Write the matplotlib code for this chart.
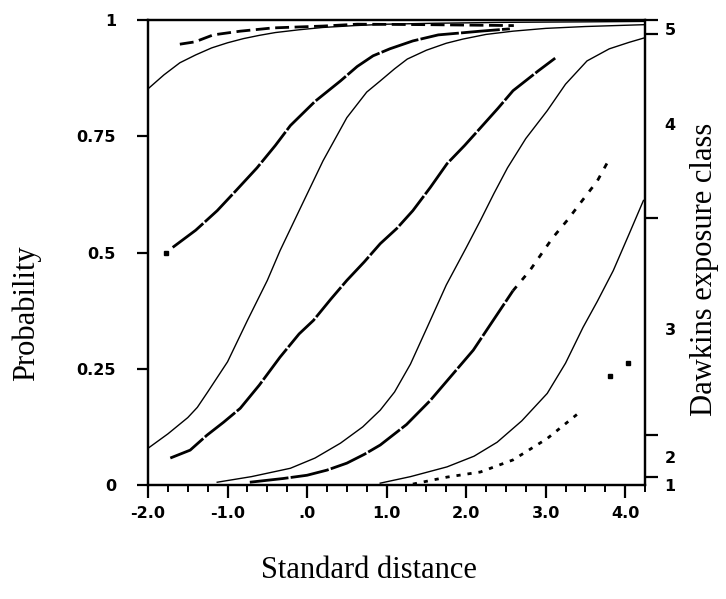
import matplotlib
matplotlib.use("Agg")
import matplotlib.pyplot as plt

# ─────────────────────────────────────────────────
# values (x = standard distance, y = probability)
# ─────────────────────────────────────────────────
# solid (fitted) curves
s1_x = [-2.0, -1.8, -1.6, -1.4, -1.2, -1.0, -0.8, -0.6, -0.4, -0.1, 0.2, 0.6,
        1.0, 1.6, 2.5, 3.5, 4.25]
s1_y = [0.852, 0.882, 0.908, 0.925, 0.940, 0.951, 0.960, 0.967, 0.973, 0.979,
        0.984, 0.988, 0.991, 0.993, 0.995, 0.996, 0.997]

s2_x = [-2.0, -1.75, -1.5, -1.38, -1.25, -1.0, -0.75, -0.5, -0.34, -0.1, 0.2,
        0.5, 0.75, 0.92, 1.1, 1.26, 1.5, 1.75, 1.96, 2.25, 2.59, 3.0, 3.5, 4.25]
s2_y = [0.079, 0.110, 0.145, 0.167, 0.200, 0.265, 0.354, 0.440, 0.504, 0.590,
        0.697, 0.790, 0.845, 0.869, 0.895, 0.916, 0.935, 0.950, 0.959, 0.969,
        0.976, 0.982, 0.986, 0.990]

s3_x = [-1.13, -0.7, -0.21, 0.1, 0.42, 0.7, 0.92, 1.1, 1.3, 1.51, 1.75, 2.0,
        2.18, 2.35, 2.52, 2.75, 3.02, 3.25, 3.52, 3.8, 4.05, 4.25]
s3_y = [0.006, 0.018, 0.036, 0.058, 0.090, 0.125, 0.161, 0.200, 0.260, 0.339,
        0.430, 0.510, 0.569, 0.627, 0.682, 0.745, 0.805, 0.862, 0.912, 0.938,
        0.952, 0.962]

s4_x = [0.92, 1.3, 1.76, 2.1, 2.39, 2.7, 3.02, 3.25, 3.47, 3.65, 3.85, 4.05, 4.23]
s4_y = [0.004, 0.018, 0.039, 0.062, 0.092, 0.138, 0.197, 0.262, 0.339, 0.395,
        0.461, 0.540, 0.612]

# dotted (observed) series
d1_x = [-1.6, -1.41, -1.18, -0.84, -0.43, 0.2, 0.63, 1.5, 2.6]
d1_y = [0.948, 0.953, 0.968, 0.976, 0.983, 0.987, 0.991, 0.990, 0.988]

d2_x = [-1.69, -1.4, -1.13, -0.9, -0.63, -0.4, -0.21, 0.1, 0.42, 0.63, 0.83,
        1.04, 1.33, 1.65, 1.92, 2.18, 2.55]
d2_y = [0.511, 0.548, 0.590, 0.632, 0.682, 0.730, 0.773, 0.825, 0.869, 0.900,
        0.923, 0.938, 0.955, 0.968, 0.972, 0.976, 0.981]

d3_x = [-1.72, -1.47, -1.26, -1.05, -0.84, -0.6, -0.34, -0.1, 0.08, 0.3, 0.5,
        0.72, 0.92, 1.13, 1.33, 1.55, 1.76, 1.98, 2.18, 2.4, 2.59, 2.91, 3.12]
d3_y = [0.058, 0.075, 0.107, 0.135, 0.165, 0.215, 0.275, 0.325, 0.354, 0.400,
        0.440, 0.480, 0.519, 0.552, 0.590, 0.640, 0.691, 0.730, 0.768, 0.810,
        0.848, 0.891, 0.918]

d4_x = [-0.72, -0.3, 0.0, 0.25, 0.5, 0.72, 0.92, 1.25, 1.55, 1.8, 2.09, 2.34, 2.59]
d4_y = [0.006, 0.014, 0.021, 0.032, 0.047, 0.066, 0.086, 0.130, 0.182, 0.232,
        0.290, 0.354, 0.418]

d4_tail_x = [2.59, 2.80, 3.09, 3.28, 3.43, 3.65, 3.81]
d4_tail_y = [0.418, 0.461, 0.532, 0.571, 0.605, 0.654, 0.704]

d5_x = [1.33, 1.76, 2.18, 2.59, 3.02, 3.41]
d5_y = [0.002, 0.017, 0.028, 0.054, 0.100, 0.154]

# isolated dots
dots_x = [-1.77, 3.81, 4.03]
dots_y = [0.498, 0.234, 0.262]

# axis ticks
x_ticks = [-2.0, -1.0, 0.0, 1.0, 2.0, 3.0, 4.0]
x_labels = ["-2.0", "-1.0", ".0", "1.0", "2.0", "3.0", "4.0"]
y_ticks = [0, 0.25, 0.5, 0.75, 1]
y_labels = ["0", "0.25", "0.5", "0.75", "1"]

# right axis: class boundaries and class label positions
class_bounds = [0.006, 0.097, 0.569, 0.970, 1.0]
class_pos = [-0.011, 0.049, 0.328, 0.773, 0.981]
class_labels = ["1", "2", "3", "4", "5"]


fig = plt.figure(figsize=(7.26, 5.99), dpi=100)
ax = fig.add_axes([0.2039, 0.1903, 0.6846, 0.7763])

for xs, ys in [(s1_x, s1_y), (s2_x, s2_y), (s3_x, s3_y), (s4_x, s4_y)]:
    ax.plot(xs, ys, color="black", lw=1.0)

for xs, ys in [(d2_x, d2_y), (d3_x, d3_y), (d4_x, d4_y)]:
    ax.plot(xs, ys, color="black", lw=2.0, linestyle=(0, (14, 0.8)))

ax.plot(d1_x, d1_y, color="black", lw=2.0, linestyle=(0, (5, 2)))
ax.plot(d4_tail_x, d4_tail_y, color="black", lw=2.0, linestyle=(0, (2, 3)))
ax.plot(d5_x, d5_y, color="black", lw=2.0, linestyle=(0, (1.5, 2.5)))
ax.plot(dots_x, dots_y, "s", color="black", ms=2.2, lw=0)

ax.set_xlim(-2.0, 4.25)
ax.set_ylim(0, 1)

ax.set_xticks(x_ticks)
ax.set_xticklabels(x_labels)
ax.set_xticks([v / 4 for v in range(-8, 18)], minor=True)
ax.set_yticks(y_ticks)
ax.set_yticklabels(y_labels)

for side in ["left", "right", "top", "bottom"]:
    ax.spines[side].set_linewidth(1.6)

ax.tick_params(axis="x", which="major", direction="out", length=9, width=1.6,
               labelsize=11.5, pad=6)
ax.tick_params(axis="x", which="minor", direction="out", length=5, width=1.4)
ax.tick_params(axis="y", which="major", direction="out", length=8, width=1.6,
               labelsize=11.5, pad=15)
for lab in ax.get_xticklabels() + ax.get_yticklabels():
    lab.set_fontweight("bold")

ax.set_xlabel("Standard distance", family="Liberation Serif", fontsize=22)
ax.xaxis.set_label_coords(0.445, -0.152)
ax.set_ylabel("Probability", family="Liberation Serif", fontsize=22)
ax.yaxis.set_label_coords(-0.215, 0.37)

# right axis with the Dawkins exposure classes
ax2 = ax.twinx()
ax2.set_ylim(0, 1)
ax2.set_yticks(class_bounds)
ax2.set_yticklabels([""] * len(class_bounds))
ax2.set_yticks(class_pos, minor=True)
ax2.set_yticklabels(class_labels, minor=True)
ax2.tick_params(axis="y", which="major", direction="out", length=9, width=1.6)
ax2.tick_params(axis="y", which="minor", length=0, labelsize=11.5, pad=14)
for lab in ax2.get_yticklabels(minor=True):
    lab.set_fontweight("bold")
for side in ["left", "right", "top", "bottom"]:
    ax2.spines[side].set_linewidth(1.6)
ax2.set_ylabel("Dawkins exposure class", family="Liberation Serif", fontsize=22)
ax2.yaxis.set_label_coords(1.09, 0.4645)

fig.savefig("out.png", dpi=100)
